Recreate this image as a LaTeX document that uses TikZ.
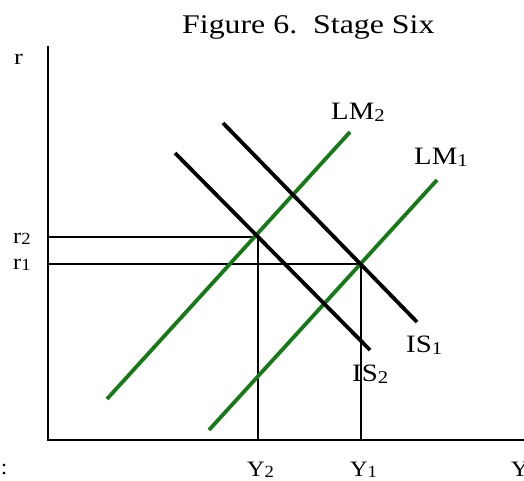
\documentclass[tikz,border=0pt]{standalone}
\usepackage{fontspec}
\usepackage{graphicx}
\setmainfont{Liberation Serif}
\newcommand{\lsub}[1]{\raisebox{-0.2ex}{\fontsize{18}{18}\selectfont #1}}
\newcommand{\tsub}[1]{\raisebox{-0.15ex}{\fontsize{17}{17}\selectfont #1}}
\tikzset{
  axis/.style={line width=2pt, black},
  guide/.style={line width=1.6pt, black},
  lmline/.style={line width=3.8pt, color=lmgreen},
  isline/.style={line width=3.8pt, black},
  curvelab/.style={inner sep=0pt, anchor=base west, font=\fontsize{25}{25}\selectfont},
  ticklab/.style={inner sep=0pt, anchor=base west, font=\fontsize{22}{22}\selectfont},
  titlelab/.style={inner sep=0pt, anchor=base west, font=\fontsize{27}{27}\selectfont}
}
\definecolor{lmgreen}{RGB}{22,122,22}
\begin{document}
\begin{tikzpicture}[x=1pt,y=-1pt]
\useasboundingbox (0,0) rectangle (524,480);
\fill[white] (0,0) rectangle (524,480);
% title
\node[titlelab] (title) at (182,33) {\scalebox{1.18}[1]{Figure 6.\ \ Stage Six}};
% axes
\coordinate (origin) at (48,440);
\coordinate (ytop) at (48,46);
\coordinate (xend) at (524,440);
\draw[axis] (ytop) -- (origin) -- (xend);
% intersection points
\coordinate (E2) at (258,237);
\coordinate (E1) at (361,264);
\coordinate (r2ax) at (48,237);
\coordinate (r1ax) at (48,264);
\coordinate (y2ax) at (258,440);
\coordinate (y1ax) at (361,440);
\draw[guide] (r2ax) -- (E2) -- (y2ax);
\draw[guide] (r1ax) -- (E1) -- (y1ax);
% LM curves
\coordinate (lm2a) at (107,399);
\coordinate (lm2b) at (350,132);
\coordinate (lm1a) at (209,430);
\coordinate (lm1b) at (437,180);
\draw[lmline] (lm2a) -- (lm2b);
\draw[lmline] (lm1a) -- (lm1b);
% IS curves
\coordinate (is1a) at (223,123);
\coordinate (is1b) at (417,322);
\coordinate (is2a) at (175,153);
\coordinate (is2b) at (370,350);
\draw[isline] (is1a) -- (is1b);
\draw[isline] (is2a) -- (is2b);
% curve labels
\node[curvelab] (LM2) at (331,119) {\scalebox{1.15}[1]{LM\lsub{2}}};
\node[curvelab] (LM1) at (414,164) {\scalebox{1.15}[1]{LM\lsub{1}}};
\node[curvelab] (IS1) at (406,352) {\scalebox{1.15}[1]{IS\lsub{1}}};
\node[curvelab] (IS2) at (352,381) {\scalebox{1.15}[1]{IS\lsub{2}}};
% axis labels
\node[ticklab] (r) at (14,64) {\scalebox{1.2}[1]{r}};
\node[ticklab] (r2) at (13,243) {\scalebox{1.1}[1]{r\tsub{2}}};
\node[ticklab] (r1) at (13,269) {\scalebox{1.1}[1]{r\tsub{1}}};
\node[ticklab] (Y2) at (247,476) {\scalebox{1.1}[1]{Y\tsub{2}}};
\node[ticklab] (Y1) at (350,476) {\scalebox{1.1}[1]{Y\tsub{1}}};
\node[ticklab] (Y) at (511,476) {\scalebox{1.1}[1]{Y}};
\node[ticklab] (colon) at (1,474) {:};
\end{tikzpicture}
\end{document}
